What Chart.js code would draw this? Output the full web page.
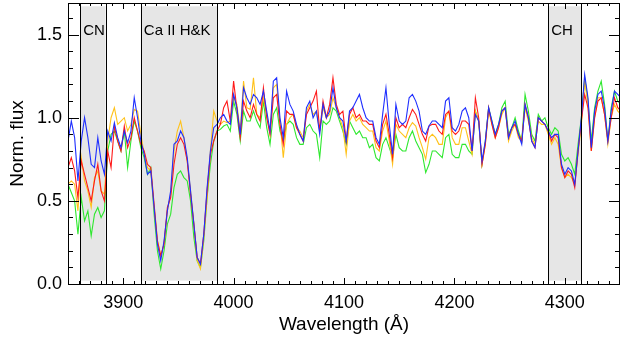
<!DOCTYPE html>
<html>
<head>
<meta charset="utf-8">
<script src="https://cdn.jsdelivr.net/npm/chart.js@4"></script>
<style>
    html, body { margin: 0; padding: 0; background: #fff; }
    #wrap { width: 621px; height: 339px; }
</style>
</head>
<body>
<div id="wrap"><canvas id="spectra" width="621" height="339"></canvas></div>
<script>
// Wavelength grid (Angstrom)
const wavelength = [
    3850, 3853, 3856, 3859, 3862, 3865, 3868, 3871, 3874, 3877,
    3880, 3883, 3886, 3889, 3892, 3895, 3898, 3901, 3904, 3907,
    3910, 3913, 3916, 3919, 3922, 3925, 3928, 3931, 3934, 3937,
    3940, 3943, 3946, 3949, 3952, 3955, 3958, 3961, 3964, 3967,
    3970, 3973, 3976, 3979, 3982, 3985, 3988, 3991, 3994, 3997,
    4000, 4003, 4006, 4009, 4012, 4015, 4018, 4021, 4024, 4027,
    4030, 4033, 4036, 4039, 4042, 4045, 4048, 4051, 4054, 4057,
    4060, 4063, 4066, 4069, 4072, 4075, 4078, 4081, 4084, 4087,
    4090, 4093, 4096, 4099, 4102, 4105, 4108, 4111, 4114, 4117,
    4120, 4123, 4126, 4129, 4132, 4135, 4138, 4141, 4144, 4147,
    4150, 4153, 4156, 4159, 4162, 4165, 4168, 4171, 4174, 4177,
    4180, 4183, 4186, 4189, 4192, 4195, 4198, 4201, 4204, 4207,
    4210, 4213, 4216, 4219, 4222, 4225, 4228, 4231, 4234, 4237,
    4240, 4243, 4246, 4249, 4252, 4255, 4258, 4261, 4264, 4267,
    4270, 4273, 4276, 4279, 4282, 4285, 4288, 4291, 4294, 4297,
    4300, 4303, 4306, 4309, 4312, 4315, 4318, 4321, 4324, 4327,
    4330, 4333, 4336, 4339, 4342, 4345, 4348, 4351
];

// Normalised flux of the four spectra
const fluxBlue = [
    0.86, 0.98, 0.88, 0.62, 0.86, 1.00, 0.88, 0.72, 0.70, 0.88,
    0.74, 0.66, 0.92, 0.86, 0.97, 0.88, 0.82, 0.92, 0.85, 0.92,
    1.12, 1.00, 0.86, 0.78, 0.66, 0.68, 0.46, 0.24, 0.14, 0.26,
    0.44, 0.56, 0.84, 0.86, 0.92, 0.88, 0.76, 0.56, 0.36, 0.16,
    0.12, 0.30, 0.58, 0.80, 0.94, 0.96, 1.00, 1.02, 0.98, 0.96,
    1.14, 1.06, 0.90, 1.18, 1.12, 1.08, 1.14, 1.12, 1.08, 1.16,
    1.04, 0.92, 1.22, 1.24, 1.00, 0.88, 1.16, 1.08, 1.04, 0.96,
    0.90, 0.86, 1.06, 1.10, 1.00, 1.04, 0.90, 1.08, 1.00, 1.04,
    1.18, 1.06, 1.00, 0.98, 0.86, 1.04, 1.06, 1.10, 1.14, 1.06,
    1.00, 0.98, 0.98, 0.88, 0.84, 1.02, 1.18, 0.96, 0.78, 1.08,
    0.98, 0.96, 0.98, 1.12, 1.14, 1.10, 1.04, 0.92, 0.90, 0.95,
    0.98, 0.98, 0.96, 0.94, 1.10, 1.12, 0.94, 0.92, 0.96, 1.04,
    1.06, 1.00, 0.80, 1.02, 0.98, 0.74, 0.86, 1.06, 0.98, 0.90,
    0.96, 1.04, 1.06, 0.88, 0.94, 0.98, 0.90, 0.84, 1.08, 1.00,
    0.86, 0.82, 1.00, 0.98, 0.96, 0.92, 0.88, 0.90, 0.90, 0.72,
    0.66, 0.70, 0.68, 0.60, 0.80, 1.00, 1.26, 1.12, 0.82, 1.04,
    1.14, 1.16, 1.06, 0.86, 1.04, 1.16, 1.14, 1.12
];
const fluxRed = [
    0.70, 0.76, 0.68, 0.52, 0.74, 0.66, 0.58, 0.50, 0.62, 0.72,
    0.56, 0.50, 0.80, 0.70, 0.95, 0.86, 0.80, 0.95, 0.82, 0.88,
    1.00, 0.92, 0.84, 0.80, 0.72, 0.70, 0.48, 0.26, 0.17, 0.24,
    0.46, 0.52, 0.72, 0.84, 0.88, 0.84, 0.74, 0.54, 0.36, 0.16,
    0.12, 0.30, 0.56, 0.78, 0.86, 0.92, 0.96, 1.06, 1.10, 0.98,
    1.22, 1.05, 0.88, 1.10, 1.04, 1.00, 1.08, 1.02, 0.98, 1.18,
    1.00, 0.90, 1.12, 1.14, 0.96, 0.84, 1.04, 1.02, 1.02, 0.94,
    0.90, 0.86, 1.02, 1.06, 1.10, 1.16, 0.92, 1.10, 1.00, 1.08,
    1.24, 1.08, 1.02, 1.04, 0.86, 1.02, 1.06, 1.00, 1.02, 0.98,
    0.98, 0.96, 0.96, 0.86, 0.82, 0.96, 1.02, 0.90, 0.76, 1.00,
    0.94, 0.96, 0.94, 1.00, 1.05, 1.02, 0.96, 0.90, 0.86, 0.95,
    0.96, 0.96, 0.92, 0.90, 1.02, 1.04, 0.92, 0.90, 0.92, 0.98,
    0.98, 0.96, 0.80, 1.12, 1.00, 0.72, 0.84, 1.06, 0.96, 0.88,
    0.94, 1.04, 1.06, 0.88, 0.94, 0.96, 0.90, 0.86, 1.08, 1.00,
    0.86, 0.82, 1.00, 0.98, 0.96, 0.92, 0.86, 0.90, 0.88, 0.70,
    0.64, 0.68, 0.66, 0.58, 0.80, 0.98, 1.14, 1.06, 0.80, 1.00,
    1.10, 1.12, 1.02, 0.86, 1.00, 1.12, 1.06, 1.04
];
const fluxOrange = [
    0.60, 0.62, 0.60, 0.44, 0.76, 0.62, 0.56, 0.46, 0.64, 0.68,
    0.56, 0.54, 0.86, 1.00, 1.06, 0.96, 0.98, 1.00, 0.92, 0.96,
    1.05, 1.04, 0.90, 0.78, 0.70, 0.68, 0.46, 0.26, 0.17, 0.24,
    0.44, 0.54, 0.80, 0.92, 0.98, 0.88, 0.74, 0.56, 0.36, 0.14,
    0.09, 0.28, 0.52, 0.80, 1.04, 0.98, 0.96, 0.98, 0.97, 0.98,
    1.12, 1.08, 0.92, 1.22, 1.06, 1.05, 1.24, 1.02, 1.00, 1.12,
    1.02, 0.90, 1.18, 1.20, 0.98, 0.76, 0.96, 1.00, 1.02, 0.94,
    0.92, 0.88, 1.04, 1.08, 1.02, 1.04, 0.92, 1.06, 1.00, 1.02,
    1.12, 1.06, 1.00, 0.94, 0.78, 0.98, 1.02, 0.98, 1.00, 0.96,
    0.94, 0.92, 0.92, 0.82, 0.80, 0.92, 0.98, 0.86, 0.72, 0.96,
    0.92, 0.90, 0.88, 0.94, 0.97, 0.95, 0.88, 0.82, 0.75, 0.88,
    0.90, 0.88, 0.84, 0.84, 1.00, 1.04, 0.88, 0.84, 0.84, 0.94,
    0.94, 0.86, 0.78, 1.04, 0.98, 0.72, 0.84, 1.04, 0.96, 0.88,
    0.94, 1.02, 1.06, 0.86, 0.92, 0.96, 0.88, 0.86, 1.06, 0.98,
    0.88, 0.84, 0.98, 0.96, 0.96, 0.90, 0.84, 0.88, 0.84, 0.70,
    0.64, 0.66, 0.64, 0.60, 0.78, 0.96, 1.22, 1.08, 0.80, 1.00,
    1.12, 1.12, 1.02, 0.84, 1.00, 1.08, 1.04, 1.02
];
const fluxGreen = [
    0.60, 0.55, 0.50, 0.30, 0.52, 0.38, 0.44, 0.29, 0.42, 0.46,
    0.40, 0.44, 0.80, 0.90, 0.92, 0.86, 0.80, 0.92, 0.70, 0.86,
    0.98, 0.92, 0.82, 0.76, 0.66, 0.70, 0.42, 0.20, 0.09, 0.20,
    0.36, 0.42, 0.58, 0.66, 0.68, 0.64, 0.62, 0.50, 0.28, 0.14,
    0.10, 0.26, 0.52, 0.72, 0.86, 0.92, 0.93, 0.95, 0.96, 0.92,
    1.10, 1.02, 0.86, 1.04, 0.98, 0.98, 1.04, 0.98, 0.94, 1.10,
    0.94, 0.84, 1.02, 1.06, 0.92, 0.86, 0.96, 0.98, 0.96, 0.88,
    0.84, 0.84, 0.94, 0.96, 0.92, 0.90, 0.76, 0.98, 0.96, 0.98,
    1.06, 1.04, 0.98, 0.92, 0.84, 0.98, 0.94, 0.90, 0.92, 0.88,
    0.88, 0.82, 0.84, 0.76, 0.74, 0.84, 0.88, 0.82, 0.76, 0.90,
    0.82, 0.80, 0.80, 0.88, 0.92, 0.86, 0.82, 0.78, 0.67, 0.72,
    0.80, 0.80, 0.78, 0.76, 0.88, 0.90, 0.78, 0.76, 0.76, 0.84,
    0.84, 0.80, 0.78, 1.04, 0.98, 0.72, 0.86, 1.06, 0.98, 0.90,
    0.96, 1.06, 1.10, 0.90, 0.94, 1.00, 0.92, 0.86, 1.14, 1.04,
    0.90, 0.86, 1.02, 0.98, 1.00, 0.94, 0.90, 0.94, 0.92, 0.78,
    0.74, 0.76, 0.72, 0.66, 0.84, 1.00, 1.24, 1.10, 0.86, 1.06,
    1.16, 1.22, 1.08, 0.86, 1.06, 1.16, 1.10, 1.08
];

// Index bands (shaded)
const bandNames = ['CN', 'Ca II H&K', 'CH'];
const bandStart = [3861, 3916, 4285];
const bandEnd = [3884, 3985, 4315];

// Axis ticks
const xTicks = [3900, 4000, 4100, 4200, 4300];
const yTicks = [0.0, 0.5, 1.0, 1.5];

const FONT = "'Liberation Sans', Arial, Helvetica, sans-serif";

// Shaded bands with their labels, drawn under the spectra
const bandPlugin = {
    id: 'bands',
    beforeDatasetsDraw(chart) {
        const ctx = chart.ctx;
        const xs = chart.scales.x, ys = chart.scales.y;
        const area = chart.chartArea;
        ctx.save();
        for (let i = 0; i < bandNames.length; i++) {
            const x0 = xs.getPixelForValue(bandStart[i]);
            const x1 = xs.getPixelForValue(bandEnd[i]);
            const yTop = ys.getPixelForValue(1.67);
            const yBot = ys.getPixelForValue(0.02);
            ctx.fillStyle = '#e6e6e6';
            ctx.fillRect(x0, yTop, x1 - x0, yBot - yTop);
            ctx.fillStyle = '#000';
            ctx.font = '15px ' + FONT;
            ctx.textBaseline = 'middle';
            ctx.textAlign = 'left';
            ctx.fillText(bandNames[i], x0 + 3, area.top + 28);
        }
        ctx.restore();
    },
    afterDatasetsDraw(chart) {
        const ctx = chart.ctx;
        const xs = chart.scales.x;
        const area = chart.chartArea;
        ctx.save();
        ctx.strokeStyle = '#000';
        ctx.lineWidth = 1;
        for (let i = 0; i < bandNames.length; i++) {
            [bandStart[i], bandEnd[i]].forEach(function(v) {
                const x = Math.round(xs.getPixelForValue(v)) + 0.5;
                ctx.beginPath();
                ctx.moveTo(x, area.top);
                ctx.lineTo(x, area.bottom);
                ctx.stroke();
            });
        }
        ctx.restore();
    }
};

// IDL-style frame with inward ticks on all four sides
const framePlugin = {
    id: 'frame',
    afterDraw(chart) {
        const ctx = chart.ctx;
        const xs = chart.scales.x, ys = chart.scales.y;
        const a = chart.chartArea;
        ctx.save();
        ctx.strokeStyle = '#000';
        ctx.lineWidth = 1;
        ctx.strokeRect(a.left + 0.5, a.top + 0.5, a.right - a.left - 1, a.bottom - a.top);
        ctx.beginPath();
        for (let w = 3860; w <= 4340; w += 10) {
            const x = Math.round(xs.getPixelForValue(w)) + 0.5;
            const len = (w % 100 === 0) ? 6 : 3;
            ctx.moveTo(x, a.bottom); ctx.lineTo(x, a.bottom - len);
            ctx.moveTo(x, a.top); ctx.lineTo(x, a.top + len);
        }
        for (let k = 1; k <= 16; k++) {
            const y = Math.round(ys.getPixelForValue(k / 10)) + 0.5;
            const len = (k % 5 === 0) ? 11 : 5;
            ctx.moveTo(a.left, y); ctx.lineTo(a.left + len, y);
            ctx.moveTo(a.right, y); ctx.lineTo(a.right - len, y);
        }
        ctx.stroke();
        ctx.restore();
    }
};

function series(label, values, color) {
    return {
        label: label,
        data: wavelength.map((w, i) => ({ x: w, y: values[i] })),
        borderColor: color,
        borderWidth: 1.1,
        pointRadius: 0,
        tension: 0,
        fill: false
    };
}

document.addEventListener('DOMContentLoaded', function() {
    const ctx = document.getElementById('spectra').getContext('2d');
    new Chart(ctx, {
        type: 'line',
        data: {
            datasets: [
                series('blue', fluxBlue, '#1f2fff'),
                series('red', fluxRed, '#ff1a1a'),
                series('orange', fluxOrange, '#ffc21a'),
                series('green', fluxGreen, '#2ee82e')
            ]
        },
        options: {
            responsive: false,
            animation: false,
            events: [],
            layout: { padding: { top: 3, right: 1, left: 0, bottom: 0 } },
            plugins: { legend: { display: false }, tooltip: { enabled: false } },
            scales: {
                x: {
                    type: 'linear',
                    min: 3850,
                    max: 4350,
                    grid: { display: false, drawTicks: false },
                    border: { display: false },
                    afterBuildTicks: function(s) { s.ticks = xTicks.map(v => ({ value: v })); },
                    afterFit: function(s) {
                        s.height = 55;
                        s.paddingLeft = 0;
                        s.paddingRight = 0;
                    },
                    ticks: {
                        padding: 8,
                        color: '#000',
                        font: { family: FONT, size: 18 },
                        maxRotation: 0,
                        callback: v => String(v)
                    },
                    title: {
                        display: true,
                        text: 'Wavelength (Å)',
                        color: '#000',
                        font: { family: FONT, size: 19 },
                        padding: { top: 0, bottom: 3 }
                    }
                },
                y: {
                    min: 0,
                    max: 1.69,
                    grid: { display: false, drawTicks: false },
                    border: { display: false },
                    afterBuildTicks: function(s) { s.ticks = yTicks.map(v => ({ value: v })); },
                    afterFit: function(s) {
                        s.width = 68;
                        s.paddingTop = 0;
                        s.paddingBottom = 0;
                    },
                    ticks: {
                        padding: 6,
                        color: '#000',
                        font: { family: FONT, size: 18 },
                        callback: v => v.toFixed(1)
                    },
                    title: {
                        display: true,
                        text: 'Norm. flux',
                        color: '#000',
                        font: { family: FONT, size: 19 },
                        padding: { top: 6, bottom: 0 }
                    }
                }
            }
        },
        plugins: [bandPlugin, framePlugin]
    });
});
</script>
</body>
</html>
